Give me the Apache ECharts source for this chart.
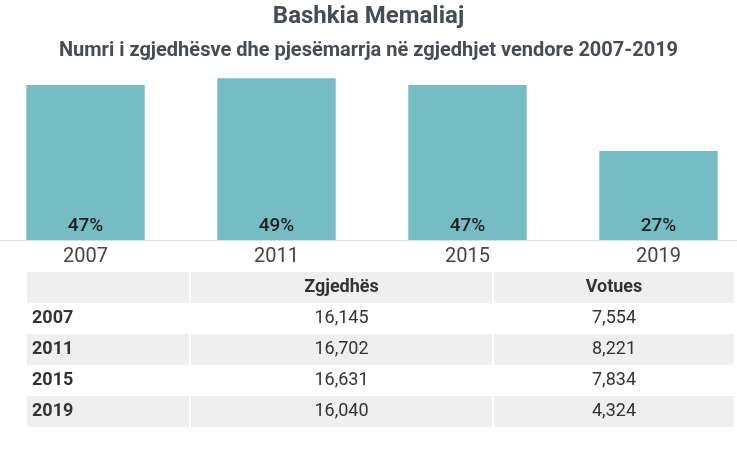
<!DOCTYPE html>
<html>
<head>
<meta charset="utf-8">
<script src="https://cdn.jsdelivr.net/npm/echarts@6/dist/echarts.min.js"></script>
<style>
  html, body { margin: 0; padding: 0; background: #fff; }
  #chart { width: 737px; height: 449px; }
</style>
</head>
<body>
<div id="chart"></div>
<script>
// data
const years = ['2007', '2011', '2015', '2019']
const participation = [47, 49, 47, 27] // % pjesëmarrja
const voters = ['16,145', '16,702', '16,631', '16,040'] // Zgjedhës
const voted = ['7,554', '8,221', '7,834', '4,324'] // Votues
const tableHeader = ['', 'Zgjedhës', 'Votues']

const textColor = '#464c56'
const barColor = '#76bcc5'
const stripe = '#efefef'

// table layout
const colX = [27, 191, 494]
const colW = [162, 301, 240]
const rowTop = 272
const rowH = 31

function buildTable() {
  const els = []
  const rows = [tableHeader].concat(years.map((y, i) => [y, voters[i], voted[i]]))
  rows.forEach((row, r) => {
    const y = rowTop + r * rowH
    const shaded = r % 2 === 0
    row.forEach((cell, c) => {
      if (shaded) {
        els.push({
          type: 'rect',
          shape: { x: colX[c], y: y, width: colW[c], height: rowH },
          style: { fill: stripe },
          silent: true
        })
      }
      if (cell) {
        const bold = r === 0 || c === 0
        els.push({
          type: 'text',
          style: {
            text: cell,
            x: c === 0 ? colX[c] + 5 : colX[c] + colW[c] / 2,
            y: y + rowH / 2,
            textAlign: c === 0 ? 'left' : 'center',
            textVerticalAlign: 'middle',
            fill: '#333',
            font: (bold ? 'bold ' : '') + '18px Roboto'
          },
          silent: true
        })
      }
    })
  })
  return els
}

const chart = echarts.init(document.getElementById('chart'))
chart.setOption({
  animation: false,
  textStyle: { fontFamily: 'Roboto' },
  title: [{
    text: 'Bashkia Memaliaj',
    left: 'center',
    top: 0,
    textStyle: { fontSize: 24, fontWeight: 'bold', color: textColor }
  }, {
    text: 'Numri i zgjedhësve dhe pjesëmarrja në zgjedhjet vendore 2007-2019',
    left: 'center',
    top: 36,
    textStyle: { fontSize: 20, fontWeight: 'bold', color: textColor }
  }],
  grid: {
    left: -10,
    width: 764,
    top: 75,
    height: 165,
    outerBoundsMode: 'none'
  },
  xAxis: {
    type: 'category',
    data: years,
    axisLine: { lineStyle: { color: '#dddddd', width: 1 } },
    axisTick: { show: false },
    axisLabel: { fontSize: 20, color: '#444', margin: 7 }
  },
  yAxis: {
    type: 'value',
    min: 0,
    max: 50,
    show: false
  },
  series: [{
    type: 'bar',
    data: participation,
    barWidth: '62%',
    itemStyle: { color: barColor },
    label: {
      show: true,
      position: 'insideBottom',
      distance: 4,
      formatter: '{c}%',
      fontSize: 19,
      fontWeight: 500,
      color: '#1e1e1e'
    }
  }],
  graphic: buildTable()
})
</script>
</body>
</html>
